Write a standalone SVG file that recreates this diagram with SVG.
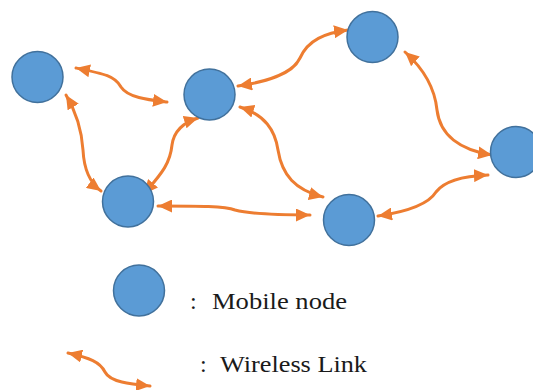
<svg xmlns="http://www.w3.org/2000/svg" width="533" height="390" viewBox="0 0 533 390">
<defs>
<marker id="ah" markerUnits="userSpaceOnUse" markerWidth="15" markerHeight="13" refX="14" refY="6.5" orient="auto-start-reverse">
<path d="M0,0 L14,6.5 L0,13 Z" fill="#ED7D31"/>
</marker>
<style>
.node{fill:#5B9BD5;stroke:#41719C;stroke-width:1.5}
.link{fill:none;stroke:#ED7D31;stroke-width:3;stroke-linecap:round;marker-start:url(#ah);marker-end:url(#ah)}
text{font-family:"Liberation Serif",serif;font-size:24px;fill:#1a1a1a}
</style>
</defs>
<rect width="533" height="390" fill="#fff"/>
<g id="links">
<path class="link" d="M76,68 C105,74 115,76 121,87 C128,98 150,100 167,102"/>
<path class="link" d="M66,95 C78,115 82,135 83,150 C84,170 90,183 101,191"/>
<path class="link" d="M144,194 C160,175 170,165 172,145 C174,130 185,122 198,118"/>
<path class="link" d="M158,206 C200,206 225,206 235,210 C250,214 280,215 310,215"/>
<path class="link" d="M238,86 C265,82 292,75 300,58 C308,40 325,33 348,30"/>
<path class="link" d="M240,107 C265,115 275,130 278,150 C282,175 295,190 323,197"/>
<path class="link" d="M405,52 C425,70 435,90 437,110 C440,135 460,150 492,155"/>
<path class="link" d="M378,216 C405,212 428,205 436,192 C445,180 465,176 488,175"/>
</g>
<g id="n1"><circle class="node" cx="37.5" cy="77" r="25.5"/></g>
<g id="n2"><circle class="node" cx="209.5" cy="94.5" r="25.5"/></g>
<g id="n3"><circle class="node" cx="128" cy="201.5" r="25.5"/></g>
<g id="n4"><circle class="node" cx="372.5" cy="37" r="25.5"/></g>
<g id="n5"><circle class="node" cx="516" cy="152" r="25.5"/></g>
<g id="n6"><circle class="node" cx="349" cy="220" r="25.5"/></g>
<g id="legend">
<g id="legend-node"><circle class="node" cx="139" cy="290.5" r="25.5"/></g>
<text x="190" y="309">:</text>
<text x="212" y="309" textLength="135" lengthAdjust="spacingAndGlyphs">Mobile node</text>
<path class="link" d="M68,353 C90,358 100,362 105,372 C110,382 130,384 150,386"/>
<text x="200" y="372">:</text>
<text x="220" y="372" textLength="147" lengthAdjust="spacingAndGlyphs">Wireless Link</text>
</g>
</svg>
